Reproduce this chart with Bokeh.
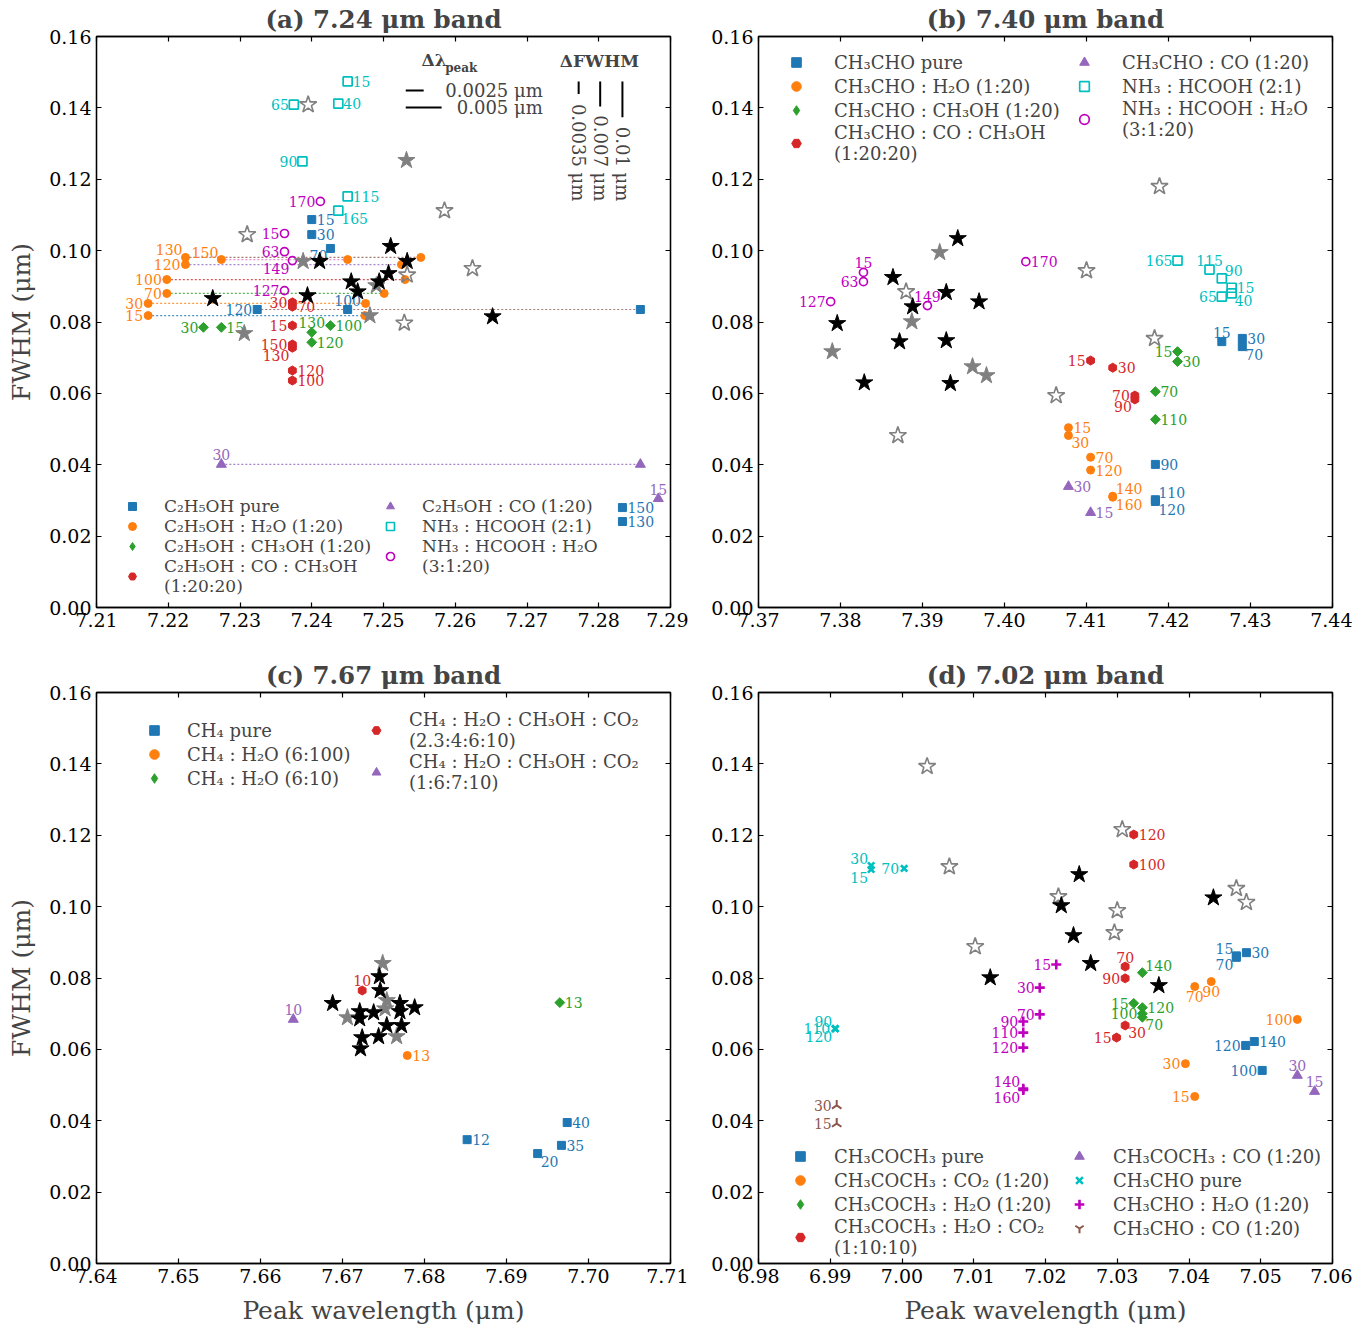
import numpy as np
from bokeh.plotting import figure
from bokeh.models import Legend, LegendItem, LinearAxis, FixedTicker, NumeralTickFormatter, Label
from bokeh.layouts import row, column
from bokeh.core.properties import value
from bokeh.embed import file_html
from bokeh.resources import INLINE

FONT = "DejaVu Serif"
BLUE, ORANGE, GREEN, RED = "#1f77b4", "#ff7f0e", "#2ca02c", "#d62728"
PURPLE, BROWN, PINK = "#9467bd", "#8c564b", "#e377c2"
CYAN, MAGENTA, GRAY = "#00bfbf", "#bf00bf", "#808080"

# ---------------- ticks ----------------
Y_TICKS = [0.00, 0.02, 0.04, 0.06, 0.08, 0.10, 0.12, 0.14, 0.16]
A_XTICKS = [7.21, 7.22, 7.23, 7.24, 7.25, 7.26, 7.27, 7.28, 7.29]
B_XTICKS = [7.37, 7.38, 7.39, 7.40, 7.41, 7.42, 7.43, 7.44]
C_XTICKS = [7.64, 7.65, 7.66, 7.67, 7.68, 7.69, 7.70, 7.71]
D_XTICKS = [6.98, 6.99, 7.00, 7.01, 7.02, 7.03, 7.04, 7.05, 7.06]

# ---------------- (a) 7.24 um band ----------------
A_PURE_X = [7.2400, 7.2400, 7.2426, 7.2324, 7.2450, 7.2833, 7.2833]
A_PURE_Y = [0.1087, 0.1045, 0.1006, 0.0835, 0.0835, 0.0280, 0.0241]
A_PURE_T = ["15", "30", "70", "120", "100", "150", "130"]
A_PURE_SHIFT_X = [7.2858]          # shifted counterpart of "120"
A_PURE_SHIFT_FROM_X = [7.2324]
A_PURE_SHIFT_Y = [0.0835]

A_H2O_X = [7.2172, 7.2172, 7.2198, 7.2198, 7.2224, 7.2224, 7.2274]
A_H2O_Y = [0.0818, 0.0852, 0.0880, 0.0919, 0.0961, 0.0981, 0.0975]
A_H2O_T = ["15", "30", "70", "100", "120", "130", "150"]
A_H2O_SHIFT_X = [7.2474, 7.2475, 7.2501, 7.2530, 7.2525, 7.2552, 7.2450]

A_MEOH_X = [7.2274, 7.2249, 7.2426, 7.2400, 7.2400]
A_MEOH_Y = [0.0785, 0.0785, 0.0790, 0.0743, 0.0771]
A_MEOH_T = ["15", "30", "100", "120", "130"]

A_COMEOH_X = [7.2373, 7.2373, 7.2373, 7.2373, 7.2373, 7.2373, 7.2373]
A_COMEOH_Y = [0.0790, 0.0855, 0.0843, 0.0636, 0.0664, 0.0728, 0.0737]
A_COMEOH_T = ["15", "30", "70", "100", "120", "130", "150"]

A_CO_X = [7.2883, 7.2274]
A_CO_Y = [0.0305, 0.0401]
A_CO_T = ["15", "30"]
A_CO_SHIFT_FROM_X = [7.2274]
A_CO_SHIFT_X = [7.2858]
A_CO_SHIFT_Y = [0.0401]

A_NH3_X = [7.2450, 7.2437, 7.2375, 7.2387, 7.2450, 7.2437]
A_NH3_Y = [0.1474, 0.1412, 0.1409, 0.1250, 0.1152, 0.1112]
A_NH3_T = ["15", "40", "65", "90", "115", "165"]

A_NH3W_X = [7.2362, 7.2362, 7.2362, 7.2373, 7.2412]
A_NH3W_Y = [0.1048, 0.0997, 0.0888, 0.0972, 0.1138]
A_NH3W_T = ["15", "63", "127", "149", "170"]

A_SBLK_X = [7.2262, 7.2394, 7.2411, 7.2455, 7.2464, 7.2494, 7.2507, 7.2510, 7.2533, 7.2652]
A_SBLK_Y = [0.0866, 0.0874, 0.0970, 0.0913, 0.0885, 0.0913, 0.0936, 0.1012, 0.0970, 0.0815]
A_SGRY_X = [7.2306, 7.2388, 7.2481, 7.2490, 7.2532]
A_SGRY_Y = [0.0768, 0.0970, 0.0818, 0.0902, 0.1253]
A_SOPN_X = [7.2310, 7.2395, 7.2585, 7.2624, 7.2529, 7.2533]
A_SOPN_Y = [0.1045, 0.1409, 0.1112, 0.0950, 0.0797, 0.0932]

KEY_DLAMBDA = [0.0025, 0.005]
KEY_DLAMBDA_T = ["0.0025 μm", "0.005 μm"]
KEY_DFWHM = [0.0035, 0.007, 0.01]
KEY_DFWHM_T = ["0.0035 μm", "0.007 μm", "0.01 μm"]

# ---------------- (b) 7.40 um band ----------------
B_PURE_X = [7.4265, 7.4290, 7.4290, 7.4184, 7.4184, 7.4184]
B_PURE_Y = [0.0745, 0.0754, 0.0731, 0.0401, 0.0302, 0.0297]
B_PURE_T = ["15", "30", "70", "90", "110", "120"]

B_H2O_X = [7.4078, 7.4078, 7.4105, 7.4105, 7.4132, 7.4132]
B_H2O_Y = [0.0504, 0.0482, 0.0421, 0.0385, 0.0312, 0.0309]
B_H2O_T = ["15", "30", "70", "120", "140", "160"]

B_MEOH_X = [7.4211, 7.4211, 7.4184, 7.4184]
B_MEOH_Y = [0.0717, 0.0689, 0.0605, 0.0527]
B_MEOH_T = ["15", "30", "70", "110"]

B_COMEOH_X = [7.4105, 7.4132, 7.4159, 7.4159]
B_COMEOH_Y = [0.0692, 0.0672, 0.0594, 0.0583]
B_COMEOH_T = ["15", "30", "70", "90"]

B_CO_X = [7.4105, 7.4078]
B_CO_Y = [0.0266, 0.0339]
B_CO_T = ["15", "30"]

B_NH3_X = [7.4277, 7.4277, 7.4265, 7.4265, 7.4250, 7.4211]
B_NH3_Y = [0.0896, 0.0880, 0.0871, 0.0922, 0.0947, 0.0972]
B_NH3_T = ["15", "40", "65", "90", "115", "165"]

B_NH3W_X = [7.3828, 7.3828, 7.3788, 7.3906, 7.4026]
B_NH3W_Y = [0.0939, 0.0913, 0.0857, 0.0846, 0.0969]
B_NH3W_T = ["15", "63", "127", "149", "170"]

B_SBLK_X = [7.3943, 7.3864, 7.3929, 7.3888, 7.3969, 7.3796, 7.3872, 7.3929, 7.3829, 7.3934]
B_SBLK_Y = [0.1034, 0.0925, 0.0883, 0.0843, 0.0857, 0.0796, 0.0745, 0.0748, 0.0630, 0.0628]
B_SGRY_X = [7.3921, 7.3887, 7.3790, 7.3961, 7.3978]
B_SGRY_Y = [0.0995, 0.0801, 0.0717, 0.0675, 0.0650]
B_SOPN_X = [7.3880, 7.4100, 7.4063, 7.3870, 7.4189, 7.4183]
B_SOPN_Y = [0.0885, 0.0944, 0.0594, 0.0482, 0.1180, 0.0754]

# ---------------- (c) 7.67 um band ----------------
C_PURE_X = [7.6852, 7.6938, 7.6967, 7.6974]
C_PURE_Y = [0.0347, 0.0308, 0.0331, 0.0395]
C_PURE_T = ["12", "20", "35", "40"]
C_H2O100_X, C_H2O100_Y, C_H2O100_T = [7.6779], [0.0583], ["13"]
C_H2O10_X, C_H2O10_Y, C_H2O10_T = [7.6965], [0.0731], ["13"]
C_MIX1_X, C_MIX1_Y, C_MIX1_T = [7.6724], [0.0765], ["10"]
C_MIX2_X, C_MIX2_Y, C_MIX2_T = [7.6640], [0.0684], ["10"]

C_SBLK_X = [7.6745, 7.6746, 7.6688, 7.6721, 7.6721, 7.6738, 7.6770, 7.6770, 7.6788,
            7.6754, 7.6772, 7.6744, 7.6724, 7.6722]
C_SBLK_Y = [0.0804, 0.0765, 0.0729, 0.0706, 0.0686, 0.0703, 0.0729, 0.0706, 0.0717,
            0.0667, 0.0667, 0.0636, 0.0633, 0.0602]
C_SGRY_X = [7.6749, 7.6706, 7.6754, 7.6752, 7.6766]
C_SGRY_Y = [0.0841, 0.0689, 0.0737, 0.0714, 0.0636]

# ---------------- (d) 7.02 um band ----------------
D_PURE_X = [7.0466, 7.0480, 7.0466, 7.0502, 7.0479, 7.0491]
D_PURE_Y = [0.0862, 0.0871, 0.0858, 0.0541, 0.0611, 0.0622]
D_PURE_T = ["15", "30", "70", "100", "120", "140"]

D_CO2_X = [7.0408, 7.0395, 7.0408, 7.0431, 7.0551]
D_CO2_Y = [0.0468, 0.0560, 0.0776, 0.0790, 0.0684]
D_CO2_T = ["15", "30", "70", "90", "100"]

D_H2O_X = [7.0323, 7.0335, 7.0335, 7.0335, 7.0335]
D_H2O_Y = [0.0729, 0.0690, 0.0700, 0.0717, 0.0815]
D_H2O_T = ["15", "70", "100", "120", "140"]

D_H2OCO2_X = [7.0299, 7.0311, 7.0311, 7.0311, 7.0323, 7.0323]
D_H2OCO2_Y = [0.0633, 0.0667, 0.0832, 0.0799, 0.1118, 0.1202]
D_H2OCO2_T = ["15", "30", "70", "90", "100", "120"]

D_CO_X = [7.0575, 7.0551]
D_CO_Y = [0.0482, 0.0527]
D_CO_T = ["15", "30"]

D_ALD_X = [6.9957, 6.9957, 7.0003, 6.9907, 6.9907, 6.9907]
D_ALD_Y = [0.1104, 0.1115, 0.1107, 0.0658, 0.0658, 0.0658]
D_ALD_T = ["15", "30", "70", "90", "110", "120"]

D_ALDW_X = [7.0215, 7.0192, 7.0192, 7.0169, 7.0169, 7.0169, 7.0169, 7.0169]
D_ALDW_Y = [0.0838, 0.0773, 0.0698, 0.0678, 0.0647, 0.0605, 0.0490, 0.0486]
D_ALDW_T = ["15", "30", "70", "90", "110", "120", "140", "160"]

D_ALDCO_X = [6.9909, 6.9909]
D_ALDCO_Y = [0.0392, 0.0443]
D_ALDCO_T = ["15", "30"]

D_SBLK_X = [7.0247, 7.0222, 7.0239, 7.0434, 7.0263, 7.0123, 7.0358]
D_SBLK_Y = [0.1090, 0.1003, 0.0919, 0.1025, 0.0841, 0.0801, 0.0779]
D_SOPN_X = [7.0307, 7.0218, 7.0300, 7.0296, 7.0466, 7.0480, 7.0102, 7.0035, 7.0066]
D_SOPN_Y = [0.1216, 0.1028, 0.0989, 0.0927, 0.1051, 0.1012, 0.0888, 0.1393, 0.1112]

# ---------------- label placement (style) ----------------
A_PURE_P = ["r", "r", "bl", "l", "a", "r", "r"]
A_H2O_P = ["l", "l", "l", "l", "l", "al", "al"]
A_MEOH_P = ["r", "l", "r", "r", "a"]
A_COMEOH_P = ["l", "l", "r", "r", "r", "bl", "l"]
A_CO_P = ["a", "a"]
A_NH3_P = ["r", "r", "l", "l", "r", "br"]
A_NH3W_P = ["l", "l", "l", "bl", "l"]
A_H2O_LINK_C = [BLUE, ORANGE, GREEN, RED, PURPLE, BROWN, PINK]

B_PURE_P = ["a", "r", "br", "r", "ar", "br"]
B_H2O_P = ["r", "br", "r", "r", "ar", "br"]
B_MEOH_P = ["l", "r", "r", "r"]
B_COMEOH_P = ["l", "r", "l", "bl"]
B_CO_P = ["r", "r"]
B_NH3_P = ["r", "br", "l", "ar", "a", "l"]
B_NH3W_P = ["a", "l", "l", "a", "r"]

C_PURE_P = ["r", "br", "r", "r"]

D_PURE_P = ["al", "r", "bl", "l", "l", "r"]
D_CO2_P = ["l", "l", "b", "b", "l"]
D_H2O_P = ["l", "br", "l", "r", "ar"]
D_H2OCO2_P = ["l", "br", "a", "l", "r", "r"]
D_CO_P = ["a", "a"]
D_ALD_P = ["bl", "al", "l", "al", "l", "bl"]
D_ALDW_P = ["l", "l", "l", "l", "l", "l", "al", "bl"]
D_ALDCO_P = ["l", "l"]

POS = {"r": (5, 0, "left", "middle"), "l": (-5, 0, "right", "middle"),
       "a": (0, -4, "center", "bottom"), "b": (0, 4, "center", "top"),
       "ar": (3, -2, "left", "bottom"), "br": (3, 2, "left", "top"),
       "al": (-3, -2, "right", "bottom"), "bl": (-3, 2, "right", "top")}

STY = {
    "sq": dict(marker="square", size=8),
    "ci": dict(marker="circle", size=8),
    "di": dict(marker="square", size=7, angle=np.pi / 4),
    "hx": dict(marker="hex", size=9, angle=np.pi / 2),
    "tr": dict(marker="triangle", size=10),
    "osq": dict(marker="square", size=9, fill_alpha=0, line_width=1.7),
    "oci": dict(marker="circle", size=8, fill_alpha=0, line_width=1.7),
    "x": dict(marker="x", size=9, line_width=2.6),
    "pl": dict(marker="cross", size=10, line_width=2.6),
    "y": dict(marker="y", size=11, angle=np.pi, line_width=2),
}


def make_fig(title, xr, xticks, xlabel, ylabel, mb):
    p = figure(frame_width=574, frame_height=571, x_range=xr, y_range=(0, 0.16),
               output_backend="svg", toolbar_location=None,
               min_border_left=mb[0], min_border_right=mb[1],
               min_border_top=mb[2], min_border_bottom=mb[3])
    p.title.text = title
    p.title.align = "center"
    p.title.text_font = FONT
    p.title.text_font_style = "bold"
    p.title.text_font_size = "24.5px"
    p.title.standoff = 5
    p.xgrid.visible = False
    p.ygrid.visible = False
    p.outline_line_color = "black"
    p.outline_line_width = 1.3
    top = LinearAxis()
    right = LinearAxis()
    p.add_layout(top, "above")
    p.add_layout(right, "right")
    for ax, ticks in ((p.below[0], xticks), (top, xticks), (p.left[0], Y_TICKS), (right, Y_TICKS)):
        ax.ticker = FixedTicker(ticks=ticks)
        ax.formatter = NumeralTickFormatter(format="0.00")
        ax.major_tick_in = 5
        ax.major_tick_out = 0
        ax.minor_tick_in = 0
        ax.minor_tick_out = 0
        ax.axis_line_width = 1.3
        ax.major_tick_line_width = 1.2
        ax.major_label_text_font = FONT
        ax.major_label_text_font_size = "19px"
        ax.major_label_text_color = "black"
        ax.major_label_standoff = 5
    for ax in (top, right):
        ax.major_label_text_font_size = "0px"
        ax.major_label_standoff = 0
    for ax, lab in ((p.below[0], xlabel), (p.left[0], ylabel)):
        if lab:
            ax.axis_label = lab
            ax.axis_label_text_font = FONT
            ax.axis_label_text_font_size = "25px"
            ax.axis_label_text_font_style = "normal"
            ax.axis_label_standoff = 10
    return p


def labels(p, xs, ys, texts, codes, color):
    for code in sorted(set(codes)):
        idx = [i for i, c in enumerate(codes) if c == code and texts[i]]
        if not idx:
            continue
        dx, dy, al, bl = POS[code]
        p.text(x=[xs[i] for i in idx], y=[ys[i] for i in idx], text=[texts[i] for i in idx],
               x_offset=dx, y_offset=dy, text_align=al, text_baseline=bl,
               text_color=color, text_font=value(FONT), text_font_size="14px")


def series(p, xs, ys, texts, codes, sty, color):
    kw = dict(STY[sty])
    kw.setdefault("fill_color", color)
    r = p.scatter(xs, ys, line_color=color, **kw)
    if texts:
        labels(p, xs, ys, texts, codes, color)
    if sty == "di":
        # legend proxy drawn as a diamond (legend glyphs ignore the marker angle)
        r = p.scatter([np.nan], [np.nan], marker="diamond", size=12, fill_color=color, line_color=color)
    return r


def stars(p, bx, by, gx=None, gy=None, ox=None, oy=None):
    if ox:
        p.scatter(ox, oy, marker="star", size=18, fill_alpha=0, line_color=GRAY, line_width=1.6)
    if gx:
        p.scatter(gx, gy, marker="star", size=18, fill_color=GRAY, line_color=GRAY)
    p.scatter(bx, by, marker="star", size=18, fill_color="black", line_color="black")


def legend(p, items, loc, fs, rh, standoff):
    lg = Legend(items=[LegendItem(label=l, renderers=[r]) for l, r in items], location=loc,
                orientation="vertical", border_line_alpha=0, background_fill_alpha=0,
                padding=0, margin=0, spacing=0, glyph_width=30, glyph_height=rh,
                label_height=rh, label_standoff=standoff, label_text_font=FONT,
                label_text_font_size=fs, label_text_baseline="middle")
    p.add_layout(lg)


# ================= panel (a) =================
pa = make_fig("(a) 7.24 μm band", (7.21, 7.29), A_XTICKS, None, "FWHM (μm)", (96, 18, 34, 47))
pa.segment(A_H2O_X, A_H2O_Y, A_H2O_SHIFT_X, A_H2O_Y, line_color=A_H2O_LINK_C,
           line_dash="2 2", line_width=1.2, line_alpha=0.8)
pa.segment(A_PURE_SHIFT_FROM_X, A_PURE_SHIFT_Y, A_PURE_SHIFT_X, A_PURE_SHIFT_Y,
           line_color=BROWN, line_dash="2 2", line_width=1.2, line_alpha=0.8)
pa.segment(A_CO_SHIFT_FROM_X, A_CO_SHIFT_Y, A_CO_SHIFT_X, A_CO_SHIFT_Y,
           line_color=PURPLE, line_dash="2 2", line_width=1.2, line_alpha=0.8)
pa.scatter(A_H2O_SHIFT_X, A_H2O_Y, marker="circle", size=8, fill_color=ORANGE, line_color=ORANGE)
pa.scatter(A_PURE_SHIFT_X, A_PURE_SHIFT_Y, marker="square", size=8, fill_color=BLUE, line_color=BLUE)
pa.scatter(A_CO_SHIFT_X, A_CO_SHIFT_Y, marker="triangle", size=10, fill_color=PURPLE, line_color=PURPLE)
ra1 = series(pa, A_PURE_X, A_PURE_Y, A_PURE_T, A_PURE_P, "sq", BLUE)
ra2 = series(pa, A_H2O_X, A_H2O_Y, A_H2O_T, A_H2O_P, "ci", ORANGE)
ra3 = series(pa, A_MEOH_X, A_MEOH_Y, A_MEOH_T, A_MEOH_P, "di", GREEN)
ra4 = series(pa, A_COMEOH_X, A_COMEOH_Y, A_COMEOH_T, A_COMEOH_P, "hx", RED)
ra5 = series(pa, A_CO_X, A_CO_Y, A_CO_T, A_CO_P, "tr", PURPLE)
ra6 = series(pa, A_NH3_X, A_NH3_Y, A_NH3_T, A_NH3_P, "osq", CYAN)
ra7 = series(pa, A_NH3W_X, A_NH3W_Y, A_NH3W_T, A_NH3W_P, "oci", MAGENTA)
stars(pa, A_SBLK_X, A_SBLK_Y, A_SGRY_X, A_SGRY_Y, A_SOPN_X, A_SOPN_Y)

# scale key (a)
KX0 = 7.2531
KY_H = [0.1449, 0.1401]
pa.segment([KX0] * 2, KY_H, [KX0 + d for d in KEY_DLAMBDA], KY_H, line_color="black", line_width=2)
for t, yy in zip(KEY_DLAMBDA_T, KY_H):
    pa.add_layout(Label(x=7.2722, y=yy, text=t, text_font=FONT, text_font_size="18px",
                        text_align="right", text_baseline="middle"))
pa.add_layout(Label(x=7.2553, y=0.1533, text="Δλ", text_font=FONT, text_font_size="17px",
                    text_font_style="bold", text_align="left", text_baseline="middle"))
pa.add_layout(Label(x=7.2586, y=0.1513, text="peak", text_font=FONT, text_font_size="12px",
                    text_font_style="bold", text_align="left", text_baseline="middle"))
pa.add_layout(Label(x=7.2801, y=0.1530, text="ΔFWHM", text_font=FONT, text_font_size="17px",
                    text_font_style="bold", text_align="center", text_baseline="middle"))
KX_V = [7.2772, 7.2802, 7.2833]
KY_TOP = 0.1474
pa.segment(KX_V, [KY_TOP] * 3, KX_V, [KY_TOP - d for d in KEY_DFWHM], line_color="black", line_width=2)
for t, xx in zip(KEY_DFWHM_T, KX_V):
    pa.add_layout(Label(x=xx, y=0.1138, text=t, text_font=FONT, text_font_size="18px",
                        angle=-np.pi / 2, text_align="right", text_baseline="middle"))

legend(pa, [("C₂H₅OH pure", ra1), ("C₂H₅OH : H₂O (1:20)", ra2), ("C₂H₅OH : CH₃OH (1:20)", ra3),
            ("C₂H₅OH : CO : CH₃OH\n(1:20:20)", ra4)], (21, 11), "17px", 20, 17)
legend(pa, [("C₂H₅OH : CO (1:20)", ra5), ("NH₃ : HCOOH (2:1)", ra6),
            ("NH₃ : HCOOH : H₂O\n(3:1:20)", ra7)], (279, 31), "17px", 20, 17)

# ================= panel (b) =================
pb = make_fig("(b) 7.40 μm band", (7.37, 7.44), B_XTICKS, None, None, (70, 20, 34, 47))
rb1 = series(pb, B_PURE_X, B_PURE_Y, B_PURE_T, B_PURE_P, "sq", BLUE)
rb2 = series(pb, B_H2O_X, B_H2O_Y, B_H2O_T, B_H2O_P, "ci", ORANGE)
rb3 = series(pb, B_MEOH_X, B_MEOH_Y, B_MEOH_T, B_MEOH_P, "di", GREEN)
rb4 = series(pb, B_COMEOH_X, B_COMEOH_Y, B_COMEOH_T, B_COMEOH_P, "hx", RED)
rb5 = series(pb, B_CO_X, B_CO_Y, B_CO_T, B_CO_P, "tr", PURPLE)
rb6 = series(pb, B_NH3_X, B_NH3_Y, B_NH3_T, B_NH3_P, "osq", CYAN)
rb7 = series(pb, B_NH3W_X, B_NH3W_Y, B_NH3W_T, B_NH3W_P, "oci", MAGENTA)
stars(pb, B_SBLK_X, B_SBLK_Y, B_SGRY_X, B_SGRY_Y, B_SOPN_X, B_SOPN_Y)
legend(pb, [("CH₃CHO pure", rb1), ("CH₃CHO : H₂O (1:20)", rb2), ("CH₃CHO : CH₃OH (1:20)", rb3),
            ("CH₃CHO : CO : CH₃OH\n(1:20:20)", rb4)], (23, 443), "18px", 24, 23)
legend(pb, [("CH₃CHO : CO (1:20)", rb5), ("NH₃ : HCOOH (2:1)", rb6),
            ("NH₃ : HCOOH : H₂O\n(3:1:20)", rb7)], (311, 467), "18px", 24, 23)

# ================= panel (c) =================
pc = make_fig("(c) 7.67 μm band", (7.64, 7.71), C_XTICKS, "Peak wavelength (μm)", "FWHM (μm)", (96, 18, 38, 62))
rc1 = series(pc, C_PURE_X, C_PURE_Y, C_PURE_T, C_PURE_P, "sq", BLUE)
rc2 = series(pc, C_H2O100_X, C_H2O100_Y, C_H2O100_T, ["r"], "ci", ORANGE)
rc3 = series(pc, C_H2O10_X, C_H2O10_Y, C_H2O10_T, ["r"], "di", GREEN)
rc4 = series(pc, C_MIX1_X, C_MIX1_Y, C_MIX1_T, ["a"], "hx", RED)
rc5 = series(pc, C_MIX2_X, C_MIX2_Y, C_MIX2_T, ["a"], "tr", PURPLE)
stars(pc, C_SBLK_X, C_SBLK_Y, C_SGRY_X, C_SGRY_Y)
legend(pc, [("CH₄ pure", rc1), ("CH₄ : H₂O (6:100)", rc2), ("CH₄ : H₂O (6:10)", rc3)],
       (43, 473), "18px", 24, 18)
legend(pc, [("CH₄ : H₂O : CH₃OH : CO₂\n(2.3:4:6:10)", rc4),
            ("CH₄ : H₂O : CH₃OH : CO₂\n(1:6:7:10)", rc5)], (265, 470), "18px", 22, 18)

# ================= panel (d) =================
pd_ = make_fig("(d) 7.02 μm band", (6.98, 7.06), D_XTICKS, "Peak wavelength (μm)", None, (70, 20, 38, 62))
rd1 = series(pd_, D_PURE_X, D_PURE_Y, D_PURE_T, D_PURE_P, "sq", BLUE)
rd2 = series(pd_, D_CO2_X, D_CO2_Y, D_CO2_T, D_CO2_P, "ci", ORANGE)
rd3 = series(pd_, D_H2O_X, D_H2O_Y, D_H2O_T, D_H2O_P, "di", GREEN)
rd4 = series(pd_, D_H2OCO2_X, D_H2OCO2_Y, D_H2OCO2_T, D_H2OCO2_P, "hx", RED)
rd5 = series(pd_, D_CO_X, D_CO_Y, D_CO_T, D_CO_P, "tr", PURPLE)
rd6 = series(pd_, D_ALD_X, D_ALD_Y, D_ALD_T, D_ALD_P, "x", CYAN)
rd7 = series(pd_, D_ALDW_X, D_ALDW_Y, D_ALDW_T, D_ALDW_P, "pl", MAGENTA)
rd8 = series(pd_, D_ALDCO_X, D_ALDCO_Y, D_ALDCO_T, D_ALDCO_P, "y", BROWN)
stars(pd_, D_SBLK_X, D_SBLK_Y, ox=D_SOPN_X, oy=D_SOPN_Y)
legend(pd_, [("CH₃COCH₃ pure", rd1), ("CH₃COCH₃ : CO₂ (1:20)", rd2), ("CH₃COCH₃ : H₂O (1:20)", rd3),
             ("CH₃COCH₃ : H₂O : CO₂\n(1:10:10)", rd4)], (27, 5), "18px", 24, 19)
legend(pd_, [("CH₃COCH₃ : CO (1:20)", rd5), ("CH₃CHO pure", rd6), ("CH₃CHO : H₂O (1:20)", rd7),
             ("CH₃CHO : CO (1:20)", rd8)], (306, 23), "18px", 24, 19)

layout = column(row(pa, pb), row(pc, pd_))
open("out.html", "w").write(file_html(layout, INLINE))
